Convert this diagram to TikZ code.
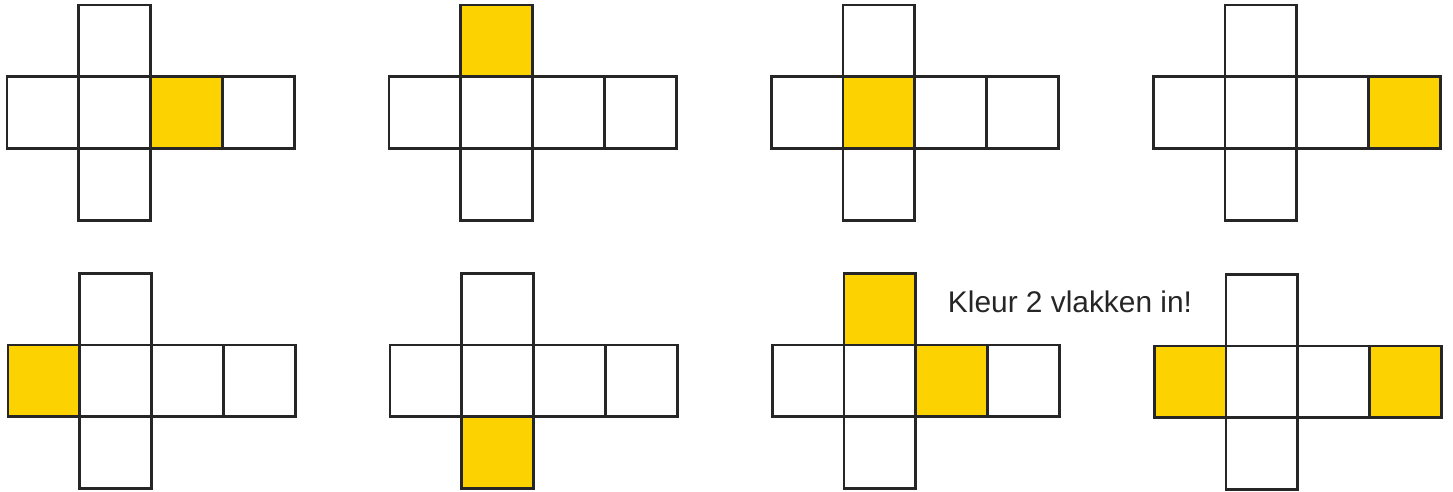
\documentclass[tikz,border=0pt]{standalone}
\usepackage{fontspec}
\setmainfont{Liberation Sans}
\usepackage{xcolor}
\usepackage{tikz}
\usetikzlibrary{positioning}

\definecolor{vlakgeel}{HTML}{FCD200}

\begin{document}
\begin{tikzpicture}[
  x=0.02cm, y=-0.02cm,
  node distance=0pt,
  face/.style={rectangle, draw=black!85, line width=1.7pt, fill=white,
               minimum size=1.44cm, inner sep=0pt, outer sep=0pt},
  geel/.style={face, fill=vlakgeel},
  opdr/.style={font=\fontsize{17}{20}\selectfont, text=black!85, inner sep=0pt}
]
\useasboundingbox (0,0) rectangle (1453,492);

% bovenste rij
\node[face, anchor=north west] (n1a) at (7,77) {};
\node[face, right=of n1a] (n1b) {};
\node[geel, right=of n1b] (n1c) {};
\node[face, right=of n1c] (n1d) {};
\node[face, above=of n1b] (n1t) {};
\node[face, below=of n1b] (n1u) {};

\node[face, anchor=north west] (n2a) at (389,77) {};
\node[face, right=of n2a] (n2b) {};
\node[face, right=of n2b] (n2c) {};
\node[face, right=of n2c] (n2d) {};
\node[geel, above=of n2b] (n2t) {};
\node[face, below=of n2b] (n2u) {};

\node[face, anchor=north west] (n3a) at (771,77) {};
\node[geel, right=of n3a] (n3b) {};
\node[face, right=of n3b] (n3c) {};
\node[face, right=of n3c] (n3d) {};
\node[face, above=of n3b] (n3t) {};
\node[face, below=of n3b] (n3u) {};

\node[face, anchor=north west] (n4a) at (1153,77) {};
\node[face, right=of n4a] (n4b) {};
\node[face, right=of n4b] (n4c) {};
\node[geel, right=of n4c] (n4d) {};
\node[face, above=of n4b] (n4t) {};
\node[face, below=of n4b] (n4u) {};

% onderste rij
\node[geel, anchor=north west] (n5a) at (8,345) {};
\node[face, right=of n5a] (n5b) {};
\node[face, right=of n5b] (n5c) {};
\node[face, right=of n5c] (n5d) {};
\node[face, above=of n5b] (n5t) {};
\node[face, below=of n5b] (n5u) {};

\node[face, anchor=north west] (n6a) at (390,345) {};
\node[face, right=of n6a] (n6b) {};
\node[face, right=of n6b] (n6c) {};
\node[face, right=of n6c] (n6d) {};
\node[face, above=of n6b] (n6t) {};
\node[geel, below=of n6b] (n6u) {};

\node[face, anchor=north west] (n7a) at (772,345) {};
\node[face, right=of n7a] (n7b) {};
\node[geel, right=of n7b] (n7c) {};
\node[face, right=of n7c] (n7d) {};
\node[geel, above=of n7b] (n7t) {};
\node[face, below=of n7b] (n7u) {};

\node[geel, anchor=north west] (n8a) at (1154,346) {};
\node[face, right=of n8a] (n8b) {};
\node[face, right=of n8b] (n8c) {};
\node[geel, right=of n8c] (n8d) {};
\node[face, above=of n8b] (n8t) {};
\node[face, below=of n8b] (n8u) {};

\node[opdr, anchor=base] (opdracht) at (1070,313) {Kleur 2 vlakken in!};
\end{tikzpicture}
\end{document}
